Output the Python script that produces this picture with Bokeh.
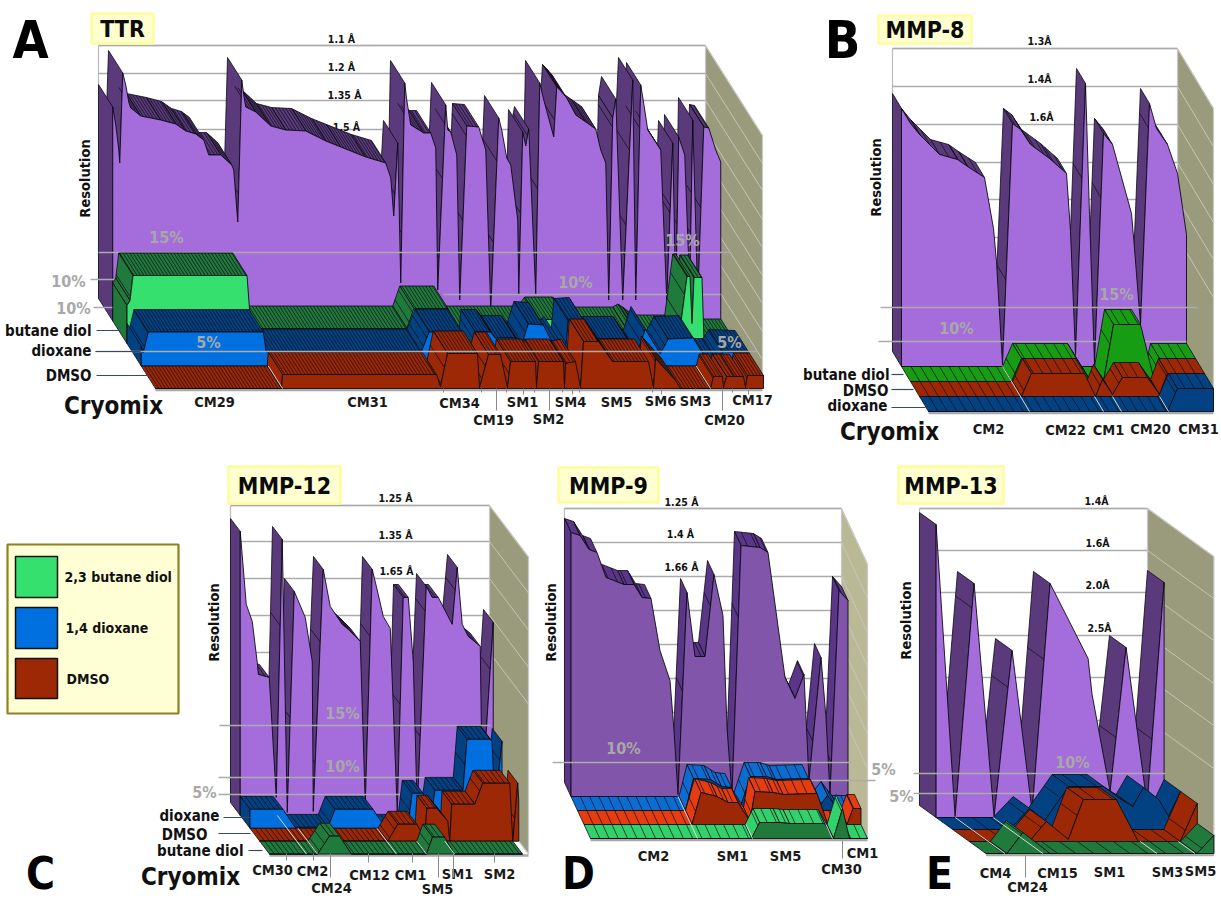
from bokeh.plotting import figure
from bokeh.embed import file_html
from bokeh.resources import INLINE
from bokeh.models import Range1d
from bokeh.core.properties import value
import numpy as np

# ---------- data: positions along the crystal axis (S) and heights (H) of every series ----------
TTR_RES_S = [0,3,6,7,10,13,16,18,28,48,63,73,83,91,96,108,119,121,125,129,131,133,143,158,173,193,213,228,253,273,278,281,285,288,292,294,298,311,318,323,325,333,335,338,344,347,354,366,373,378,386,389,394,398,403,405,406,410,413,416,423,427,431,441,444,448,454,463,473,483,488,493,496,500,503,510,520,523,528,532,535,548,554,560,563,566,572,577,580,585,591,596,603,608]
TTR_RES_H = [214,196,171,158,248,236,219,213,205,201,197,190,187,181,166,166,156,151,99,241,226,214,209,195,191,190,180,174,164,158,143,105,178,38,238,221,196,188,188,173,31,216,191,189,166,21,195,194,171,11,203,191,163,156,116,101,26,189,175,192,26,238,221,184,234,230,223,206,199,192,171,158,21,203,222,21,241,21,236,211,191,171,21,178,21,184,166,31,201,21,194,193,171,159]
TTR_BUT_S = [0,3,6,120,124,280,287,321,330,405,412,440,447,500,505,510,520,552,560,563,565,567,575,577,608]
TTR_BUT_H = [38,43,68,68,15,15,35,35,15,15,24,24,14,14,17,14,6,6,67,67,20,66,66,2,2]
TTR_DIOX_S = [0,2,7,122,125,280,288,321,326,332,334,349,354,374,380,387,402,412,417,424,427,442,454,486,496,504,519,527,552,566,576,582,608]
TTR_DIOX_H = [20,13,34,34,14,14,34,34,14,12,34,34,28,28,20,42,41,22,27,12,45,46,27,27,12,37,12,27,28,5,5,14,13]
TTR_DMSO_S = [0,126,127,281,285,292,322,324,333,345,352,355,380,381,383,408,409,410,420,425,428,443,457,493,498,500,520,525,555,558,567,568,571,579,588,590,592,608]
TTR_DMSO_H = [0,0,14,14,2,35,35,1,34,34,1,27,27,1,27,27,1,25,27,1,47,47,27,27,1,30,8,0,0,12,12,1,12,12,12,1,13,13]

MMP8_RES_S = [0,9,18,38,56,66,83,92,95,101,111,119,129,148,165,169,174,184,188,193,202,211,230,233,239,248,255,266,276,285]
MMP8_RES_H = [258,243,232,212,207,200,189,138,105,2,243,237,222,208,193,135,12,283,152,2,233,222,153,118,42,263,238,222,193,132]
MMP8_BUT_S = [0,101,111,166,180,193,203,230,244,249,285]
MMP8_BUT_H = [0,0,23,23,0,0,57,57,0,23,23]
MMP8_DMSO_S = [0,102,112,165,176,183,193,203,228,240,248,285]
MMP8_DMSO_H = [0,0,23,23,0,17,2,19,19,2,23,23]
MMP8_DIOX_S = [0,239,249,285]
MMP8_DIOX_H = [0,0,23,23]

MMP12_RES_S = [0,6,12,17,18,29,36,42,47,54,65,72,73,83,90,102,108,120,125,132,138,143,150,157,163,168,173,177,186,192,198,212,217,222,228,240,242,253]
MMP12_RES_H = [284,211,194,153,141,138,18,276,3,224,198,154,4,246,209,191,186,174,11,246,221,199,187,4,218,218,154,4,229,218,218,191,248,191,179,169,21,193]
MMP12_DIOX_S = [0,33,45,78,85,123,135,158,162,173,180,185,213,217,240,242,245,252]
MMP12_DIOX_H = [19,19,1,1,19,19,1,1,35,35,5,38,38,89,89,87,20,87]
MMP12_DMSO_S = [0,128,138,157,165,167,177,188,190,192,215,223,250,253,258,259]
MMP12_DMSO_H = [0,0,17,17,3,33,33,20,0,37,37,58,58,0,58,40]
MMP12_BUT_S = [0,48,60,70,82,157,163,175,185,253]
MMP12_BUT_H = [0,0,18,18,0,0,17,17,0,0]

MMP9_RES_S = [0,9,18,26,35,53,63,71,80,89,99,103,107,116,124,134,143,152,156,161,170,189,197,214,224,233,238,250,255,259,268,277]
MMP9_RES_H = [264,261,247,244,219,212,212,199,198,146,116,66,2,204,140,140,222,181,69,2,251,249,244,119,98,122,16,139,79,2,206,196]
MMP9_DIOX_S = [0,108,116,133,144,154,162,173,189,198,231,243,250,256,261,277]
MMP9_DIOX_H = [0,0,32,31,24,23,1,34,34,31,32,6,15,7,1,1]
MMP9_DMSO_S = [0,108,117,133,144,154,166,171,189,199,233,244,263,269,277]
MMP9_DMSO_H = [0,0,32,28,22,22,3,33,32,30,31,0,0,16,16]
MMP9_BUT_S = [0,161,169,189,199,234,243,252,259,277]
MMP9_BUT_H = [0,0,16,16,15,15,0,30,0,0]

MMP13_RES_S = [0,19,38,58,76,96,114,152,156,174,190,211,228]
MMP13_RES_H = [293,1,234,1,167,6,234,159,123,26,170,13,235]
MMP13_DIOX_S = [0,57,77,92,116,151,167,180,191,206,216,228]
MMP13_DIOX_H = [0,0,21,9,43,43,31,23,42,30,13,38]
MMP13_DMSO_S = [0,60,77,92,99,114,147,169,211,228]
MMP13_DMSO_H = [0,0,20,8,2,42,42,0,0,38]
MMP13_BUT_S = [0,21,37,54,64,211,228]
MMP13_BUT_H = [0,0,21,8,0,0,18]

TTR_RES_LABELS = ["1.1 Å", "1.2 Å", "1.35 Å", "1.5 Å"]
MMP8_RES_LABELS = ["1.3Å", "1.4Å", "1.6Å"]
MMP12_RES_LABELS = ["1.25 Å", "1.35 Å", "1.65 Å"]
MMP9_RES_LABELS = ["1.25 Å", "1.4 Å", "1.66 Å"]
MMP13_RES_LABELS = ["1.4Å", "1.6Å", "2.0Å", "2.5Å"]
TTR_TICKS = ["CM29","CM31","CM34","CM19","SM1","SM2","SM4","SM5","SM6","SM3","CM20","CM17"]
MMP8_TICKS = ["CM2","CM22","CM1","CM20","CM31"]
MMP12_TICKS = ["CM30","CM2","CM24","CM12","CM1","SM5","SM1","SM2"]
MMP9_TICKS = ["CM2","SM1","SM5","CM1","CM30"]
MMP13_TICKS = ["CM4","CM24","CM15","SM1","SM3","SM5"]
LEGEND_NAMES = ["2,3 butane diol", "1,4 dioxane", "DMSO"]

# ---------- colours ----------
PURPLE, PURPLE_D = "#a56ddb", "#5b3a7c"
GREEN_L, GREEN_D, GREEN_M = "#35e06e", "#207a3c", "#179d14"
BLUE_L, BLUE_D = "#0070e0", "#034282"
RED = "#9c2805"
WALL = "#9a9a7c"
GRID = "#ababab"
PCT = "#a8a8a8"
FONT = value("DejaVu Sans Condensed")

p = figure(width=1221, height=899, output_backend="svg", toolbar_location=None,
           x_range=Range1d(0, 1221), y_range=Range1d(899, 0),
           x_axis_location=None, y_axis_location=None, min_border=0,
           background_fill_color="white", border_fill_color="white")
p.grid.visible = False
p.outline_line_color = None


def txt(x, y, s, size, color="#111111", align="center", angle=0.0, font=FONT):
    p.text([x], [y], text=[s], text_font=font, text_font_style="bold",
           text_font_size=f"{size}px", text_color=color, text_align=align,
           text_baseline="middle", angle=angle)


def draw_row(g, row, S, H, front, top, hatch):
    S = np.asarray(S, float)
    H = np.asarray(H, float)
    ss = np.r_[S[0], S]
    hh = np.r_[0.0, H]
    ddx, ddy = g["dx"], g["dy"]
    bx = g["x"] + row * ddx
    by = g["y"] + row * ddy
    xs, ys, hx, hy = [], [], [], []
    for k in range(len(ss) - 2, -1, -1):
        sx0, sx1 = ss[k], ss[k + 1]
        y0, y1 = by - hh[k], by - hh[k + 1]
        if (y1 - y0) * ddx >= (sx1 - sx0) * ddy or (sx0 == sx1 and y0 == y1):
            continue
        xs.append([bx + sx0, bx + sx1, bx + sx1 + ddx, bx + sx0 + ddx])
        ys.append([y0, y1, y1 + ddy, y0 + ddy])
        for t in np.arange(np.ceil(sx0 / hatch) * hatch, sx1, hatch):
            if sx1 > sx0 and t > sx0:
                yy = y0 + (y1 - y0) * (t - sx0) / (sx1 - sx0)
                hx.append([bx + t, bx + t + ddx])
                hy.append([yy, yy + ddy])
    if xs:
        p.patches(xs, ys, fill_color=top, line_color="#0b0b14", line_width=0.8)
    if hx:
        p.multi_line(hx, hy, line_color="#0b0b14", line_width=0.7)
    fx = [bx + ddx + S[0]] + list(bx + ddx + S) + [bx + ddx + S[-1]]
    fy = [by + ddy] + list(by + ddy - H) + [by + ddy]
    p.patch(fx, fy, fill_color=front, line_color="#0b0b14", line_width=0.9)


def seg(x0, y0, x1, y1, color=GRID, w=1.3):
    p.line([x0, x1], [y0, y1], line_color=color, line_width=w)


def panel(g, rows, grid_y, res_labels, res_xy, pct_under, pct_over, separators,
          wall=WALL):
    X, Y, W = g["x"], g["y"], g["w"]
    D = g["dx"] * 4, g["dy"] * 4
    top = g["top"]
    p.patch([X + W, X + W + D[0], X + W + D[0], X + W],
            [top, top + D[1], Y + D[1], Y], fill_color=wall, line_color="#c9c9c9", line_width=1.2)
    seg(X, top, X + W, top, "#cccccc", 1.6)
    seg(X, top, X, Y, "#bbbbbb", 1.2)
    for gy in grid_y:
        seg(X, gy, X + W, gy)
        seg(X + W, gy, X + W + D[0], gy + D[1], "#c8c8c0", 0.9)
    for (lab, (lx, ly)) in zip(res_labels, res_xy):
        txt(lx, ly, lab, 10.5)
    seg(X + D[0], Y + D[1] + 1.5, X + W + D[0], Y + D[1] + 1.5, "#a9a9a9", 2.5)
    draw_row(g, 0, *rows[0])
    for ln in pct_under:
        seg(*ln)
    for i, r in enumerate(rows[1:3], start=1):
        draw_row(g, i, *r)
    draw_row(g, 3, *rows[3])
    for ln in pct_over:
        seg(*ln)
    for s, r in separators:
        seg(X + s + g["dx"] * r, Y + g["dy"] * r, X + s + D[0], Y + D[1], "#e8e8e8", 0.9)


def title_box(x0, y0, x1, y1, s, size):
    p.quad(left=[x0], right=[x1], top=[y0], bottom=[y1], fill_color="#ffffcf",
           line_color="#fdfd9e", line_width=2.5)
    txt((x0 + x1) / 2, (y0 + y1) / 2 + 0.5, s, size, "#0a0a0a")


def labels(items, size=14.5):
    for s, x, y in items:
        txt(x, y, s, size, "#1a1a1a")


LEAD = "#3b4a5c"
RES_SIZE = 14.5
ROW_SIZE = 15
CRYO_SIZE = 24
LETTER = 52
LETTER_LOW = 44
PCT_SIZE = 16

# ---------------- A : TTR ----------------
gA = dict(x=98, y=298, w=607, dx=14.25, dy=22.5, top=45)
panel(gA,
      [(TTR_RES_S, TTR_RES_H, PURPLE, PURPLE_D, 3.4),
       (TTR_BUT_S, TTR_BUT_H, GREEN_L, GREEN_D, 3.4),
       (TTR_DIOX_S, TTR_DIOX_H, BLUE_L, BLUE_D, 3.4),
       (TTR_DMSO_S, TTR_DMSO_H, RED, RED, 3.4)],
      [45, 73, 100, 129, 157, 185, 213, 241, 269],
      TTR_RES_LABELS, [(341, 38), (341, 66), (344, 94), (346, 126)],
      [(98, 252, 730, 252), (90, 279, 116, 279), (443, 294, 720, 294), (93, 307, 250, 307)],
      [(95, 351, 757, 351)], [(127, 3), (555, 3)])
for s, x, y in [("15%", 166, 237), ("10%", 68, 281), ("10%", 73, 308), ("5%", 208, 342),
                ("10%", 575, 282), ("15%", 682, 240), ("5%", 729, 342)]:
    txt(x, y, s, PCT_SIZE, PCT)
txt(84, 178, "Resolution", RES_SIZE, angle=np.pi / 2)
txt(91, 330, "butane diol", ROW_SIZE, align="right")
txt(91, 350, "dioxane", ROW_SIZE, align="right")
txt(91, 375, "DMSO", ROW_SIZE, align="right")
seg(96, 330, 120, 330, LEAD, 1.2); seg(95, 351, 140, 351, LEAD, 1.2); seg(96, 375, 147, 375, LEAD, 1.2)
txt(113, 405, "Cryomix", CRYO_SIZE)
labels(zip(TTR_TICKS, [214, 367, 459, 493, 522, 548, 570, 616, 660, 695, 724, 752],
           [401, 401, 402, 419, 401, 418, 401, 401, 400, 400, 419, 399]))
for x, y1 in [(443, 392), (481, 392), (496, 410), (506, 392), (523, 394), (534, 392), (549, 410),
              (562, 392), (572, 394), (579, 392), (652, 392), (661, 394), (695, 390), (722, 410),
              (732, 392), (748, 394)]:
    seg(x, 388, x, y1, "#8a8a8a", 1.0)
title_box(91, 13, 153, 43, "TTR", 23)
txt(30, 39, "A", LETTER, "#000000")

# ---------------- B : MMP-8 ----------------
gB = dict(x=892, y=351, w=285, dx=9, dy=15, top=48)
panel(gB,
      [(MMP8_RES_S, MMP8_RES_H, PURPLE, PURPLE_D, 9.5),
       (MMP8_BUT_S, MMP8_BUT_H, GREEN_M, GREEN_M, 9.5),
       (MMP8_DMSO_S, MMP8_DMSO_H, RED, RED, 9.5),
       (MMP8_DIOX_S, MMP8_DIOX_H, BLUE_D, BLUE_D, 9.5)],
      [48, 86, 124, 162, 199, 237],
      MMP8_RES_LABELS, [(1039, 40), (1039, 78), (1041, 116)],
      [(880, 307, 1197, 307), (878, 341, 1186, 341)], [],
      [(101, 1), (175, 3), (193, 3), (240, 3)])
txt(1116, 294, "15%", PCT_SIZE, PCT)
txt(956, 328, "10%", PCT_SIZE, PCT)
txt(875, 177, "Resolution", RES_SIZE, angle=np.pi / 2)
txt(889, 374, "butane diol", ROW_SIZE, align="right")
txt(888, 390, "DMSO", ROW_SIZE, align="right")
txt(887, 405, "dioxane", ROW_SIZE, align="right")
seg(891, 374, 903, 374, LEAD, 1.2); seg(891, 389, 913, 389, LEAD, 1.2); seg(891, 407, 925, 407, LEAD, 1.2)
txt(889, 431, "Cryomix", CRYO_SIZE)
labels(zip(MMP8_TICKS, [988, 1065, 1108, 1150, 1198], [428, 429, 429, 428, 428]))
title_box(878, 15, 971, 43, "MMP-8", 23)
txt(842, 39, "B", LETTER, "#000000")

# ---------------- C : MMP-12 ----------------
gC = dict(x=230, y=802, w=259, dx=9.75, dy=12.9, top=505)
panel(gC,
      [(MMP12_RES_S, MMP12_RES_H, PURPLE, PURPLE_D, 5),
       (MMP12_DIOX_S, MMP12_DIOX_H, BLUE_L, BLUE_D, 5),
       (MMP12_DMSO_S, MMP12_DMSO_H, RED, RED, 5),
       (MMP12_BUT_S, MMP12_BUT_H, GREEN_D, GREEN_D, 5)],
      [505, 541, 578, 615, 652],
      MMP12_RES_LABELS, [(395, 497), (395, 534), (396, 570)],
      [(219, 725, 490, 725), (218, 777, 430, 777), (218, 794, 400, 794)], [],
      [(37, 1), (48, 2), (127, 2), (157, 3), (185, 3)])
txt(342, 713, "15%", PCT_SIZE, PCT)
txt(342, 766, "10%", PCT_SIZE, PCT)
txt(204, 792, "5%", PCT_SIZE, PCT)
txt(213, 622, "Resolution", RES_SIZE, angle=np.pi / 2)
txt(219, 815, "dioxane", ROW_SIZE, align="right")
txt(207, 834, "DMSO", ROW_SIZE, align="right")
txt(243, 850, "butane diol", ROW_SIZE, align="right")
seg(223, 817, 250, 817, LEAD, 1.2); seg(218, 833, 250, 833, LEAD, 1.2); seg(248, 850, 262, 850, LEAD, 1.2)
txt(190, 876, "Cryomix", CRYO_SIZE)
labels(zip(MMP12_TICKS, [272, 312, 331, 369, 410, 437, 457, 499], [869, 870, 887, 874, 874, 888, 873, 873]))
for x, y1 in [(286, 860), (313, 860), (330, 877), (368, 862), (412, 862), (438, 877), (453, 877), (494, 862)]:
    seg(x, 853, x, y1, "#8a8a8a", 1.0)
title_box(228, 466, 340, 503, "MMP-12", 23)
txt(40, 873, "C", LETTER_LOW, "#000000")

# ---------------- D : MMP-9 ----------------
gD = dict(x=564, y=782, w=277, dx=6.5, dy=14, top=508)
panel(gD,
      [(MMP9_RES_S, MMP9_RES_H, "#8155a9", "#5b3587", 9.3),
       (MMP9_DIOX_S, MMP9_DIOX_H, BLUE_D, "#0d6cd0", 9.3),
       (MMP9_DMSO_S, MMP9_DMSO_H, RED, "#e53d10", 9.3),
       (MMP9_BUT_S, MMP9_BUT_H, GREEN_D, "#33d16c", 9.3)],
      [508, 542, 576, 610, 644, 678, 712],
      MMP9_RES_LABELS, [(681, 501), (680, 533), (681, 566)],
      [(552, 762, 850, 762), (810, 780, 875, 780)], [],
      [(107, 1), (162, 3), (242, 3)], wall="#b9b995")
txt(623, 748, "10%", PCT_SIZE, PCT)
txt(550, 622, "Resolution", RES_SIZE, angle=np.pi / 2)
labels(zip(MMP9_TICKS, [653, 732, 785, 862, 841], [855, 855, 855, 852, 868]))
seg(842, 840, 842, 858, "#8a8a8a", 1.0)
title_box(558, 467, 658, 502, "MMP-9", 23)
txt(578, 873, "D", LETTER_LOW, "#000000")

# ---------------- E : MMP-13 ----------------
gE = dict(x=919, y=805, w=228, dx=16.6, dy=12, top=508)
panel(gE,
      [(MMP13_RES_S, MMP13_RES_H, PURPLE, PURPLE_D, 18),
       (MMP13_DIOX_S, MMP13_DIOX_H, BLUE_D, BLUE_D, 18),
       (MMP13_DMSO_S, MMP13_DMSO_H, RED, RED, 18),
       (MMP13_BUT_S, MMP13_BUT_H, GREEN_D, GREEN_D, 18)],
      [508, 550, 592, 635, 677, 720],
      MMP13_RES_LABELS, [(1096, 500), (1097, 542), (1097, 584), (1099, 627)],
      [(913, 773, 1165, 773), (913, 793, 1040, 793)], [],
      [(19, 1), (57, 1), (171, 3), (209, 3)])
txt(1072, 762, "10%", PCT_SIZE, PCT)
txt(883, 769, "5%", PCT_SIZE, PCT)
txt(901, 796, "5%", PCT_SIZE, PCT)
txt(905, 620, "Resolution", RES_SIZE, angle=np.pi / 2)
labels(zip(MMP13_TICKS, [995, 1027, 1057, 1109, 1167, 1200], [872, 886, 872, 871, 871, 870]))
seg(1025, 855, 1025, 877, "#8a8a8a", 1.0)
title_box(898, 466, 1003, 503, "MMP-13", 23)
txt(939, 873, "E", LETTER_LOW, "#000000")

# ---------------- legend ----------------
p.quad(left=[7], right=[178], top=[544], bottom=[713], fill_color="#ffffd5", line_color="#8f8020", line_width=2.2)
for name, c, y0, y1, tx in zip(LEGEND_NAMES, [GREEN_L, BLUE_L, RED], [556, 607, 658], [597, 648, 698], [64, 65, 66]):
    p.quad(left=[15], right=[57], top=[y0], bottom=[y1], fill_color=c, line_color="#111111", line_width=1.5)
    txt(tx, (y0 + y1) / 2, name, 14, align="left")

open("out.html", "w").write(file_html(p, INLINE))
